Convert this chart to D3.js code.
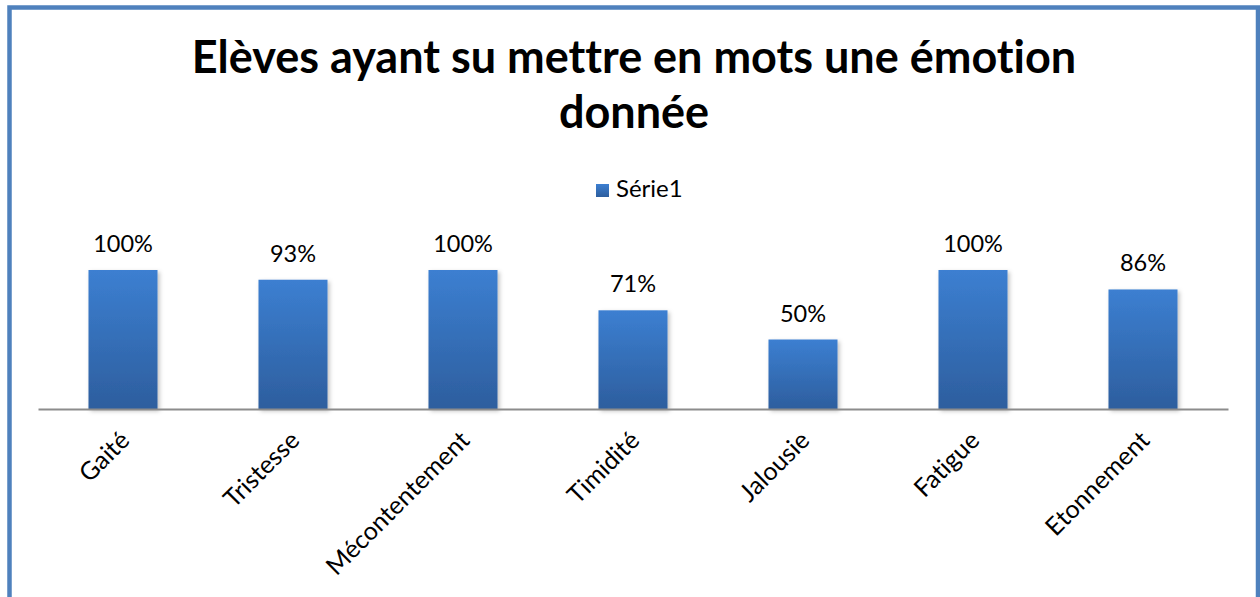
<!DOCTYPE html>
<html>
<head>
<meta charset="utf-8">
<script src="https://cdn.jsdelivr.net/npm/d3@7"></script>
<style>
  html, body { margin: 0; padding: 0; background: #fff; }
  svg { display: block; font-family: Lato, "Noto Sans", sans-serif; font-variant-ligatures: none; }
</style>
</head>
<body>
<svg id="chart" width="1260" height="597"></svg>
<script>
// Emotions named by the pupils and share of pupils who managed it
const categories = ["Gaité", "Tristesse", "Mécontentement", "Timidité", "Jalousie", "Fatigue", "Etonnement"];
const values = [1.00, 0.93, 1.00, 0.71, 0.50, 1.00, 0.86];
const seriesName = "Série1";
const titleLines = ["Elèves ayant su mettre en mots une émotion", "donnée"];

const svg = d3.select("#chart");

// outer frame
svg.append("rect")
  .attr("x", 9.5).attr("y", 7.5)
  .attr("width", 1248.5).attr("height", 620)
  .attr("fill", "#fff")
  .attr("stroke", "#4f81bd").attr("stroke-width", 4.5);

const defs = svg.append("defs");
const grad = defs.append("linearGradient")
  .attr("id", "barGrad").attr("x1", 0).attr("y1", 0).attr("x2", 0).attr("y2", 1);
grad.append("stop").attr("offset", "0%").attr("stop-color", "#3c7fd1");
grad.append("stop").attr("offset", "100%").attr("stop-color", "#2d5e9e");

const shadow = defs.append("filter").attr("id", "barShadow")
  .attr("x", "-20%").attr("y", "-10%").attr("width", "150%").attr("height", "130%");
shadow.append("feDropShadow")
  .attr("dx", 2).attr("dy", 2).attr("stdDeviation", 2)
  .attr("flood-color", "#000").attr("flood-opacity", 0.25);

// title
const title = svg.append("text")
  .attr("text-anchor", "middle")
  .attr("font-weight", "bold")
  .attr("font-size", 45)
  .attr("fill", "#000");
title.selectAll("tspan").data(titleLines).join("tspan")
  .attr("x", 634)
  .attr("y", (d, i) => 73 + i * 55)
  .text(d => d);

// legend
const legend = svg.append("g").attr("transform", "translate(596,184)");
legend.append("rect").attr("width", 13).attr("height", 13).attr("fill", "url(#barGrad)");
legend.append("text").attr("x", 20).attr("y", 13).attr("font-size", 24).attr("fill", "#000").text(seriesName);

// scales
const x = d3.scaleBand().domain(categories).range([38, 1228]).paddingInner(0.594).paddingOuter(0.297);
const y = d3.scaleLinear().domain([0, 1]).range([409, 270]);

// bars
svg.append("g").selectAll("rect").data(values).join("rect")
  .attr("x", (d, i) => x(categories[i]))
  .attr("y", d => y(d))
  .attr("width", x.bandwidth())
  .attr("height", d => y(0) - y(d))
  .attr("fill", "url(#barGrad)")
  .attr("filter", "url(#barShadow)");

// data labels
svg.append("g").selectAll("text").data(values).join("text")
  .attr("x", (d, i) => x(categories[i]) + x.bandwidth() / 2)
  .attr("y", d => y(d) - 18)
  .attr("text-anchor", "middle")
  .attr("font-size", 23.5)
  .attr("fill", "#000")
  .text(d => d3.format(".0%")(d));

// category axis
const axis = svg.append("g").attr("transform", "translate(0,409)")
  .call(d3.axisBottom(x).tickSize(0).tickPadding(0));
axis.select(".domain").attr("stroke", "#8c8c8c").attr("stroke-width", 2);
axis.selectAll(".tick text")
  .attr("font-family", "Lato, 'Noto Sans', sans-serif")
  .attr("font-size", 25)
  .attr("fill", "#000")
  .attr("text-anchor", "end")
  .attr("dy", 0)
  .attr("transform", "translate(8,33) rotate(-45)");
</script>
</body>
</html>
